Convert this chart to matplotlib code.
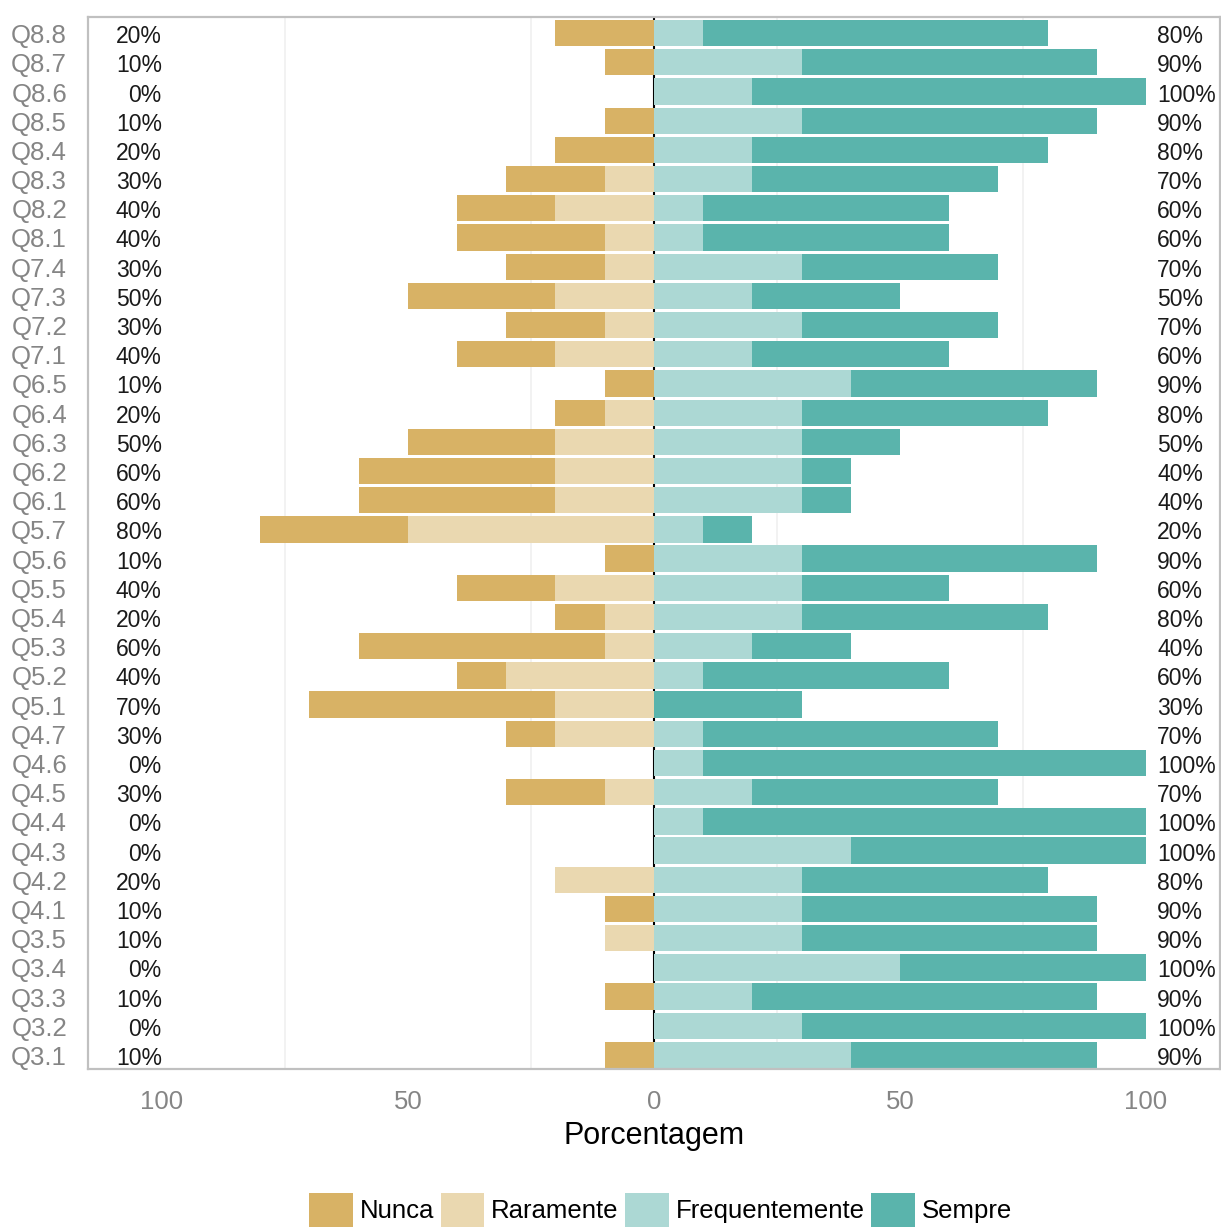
import matplotlib
matplotlib.use("Agg")
import matplotlib.pyplot as plt
import matplotlib.transforms as mtrans
import numpy as np
from matplotlib.patches import Patch

plt.rcParams['font.family'] = ['Liberation Sans', 'DejaVu Sans']

items = ["Q8.8", "Q8.7", "Q8.6", "Q8.5", "Q8.4", "Q8.3", "Q8.2", "Q8.1",
         "Q7.4", "Q7.3", "Q7.2", "Q7.1", "Q6.5", "Q6.4", "Q6.3", "Q6.2", "Q6.1",
         "Q5.7", "Q5.6", "Q5.5", "Q5.4", "Q5.3", "Q5.2", "Q5.1",
         "Q4.7", "Q4.6", "Q4.5", "Q4.4", "Q4.3", "Q4.2", "Q4.1",
         "Q3.5", "Q3.4", "Q3.3", "Q3.2", "Q3.1"]
nunca = [20, 10, 0, 10, 20, 20, 20, 30, 20, 30, 20, 20, 10, 10, 30, 40, 40,
         30, 10, 20, 10, 50, 10, 50, 10, 0, 20, 0, 0, 0, 10, 0, 0, 10, 0, 10]
raramente = [0, 0, 0, 0, 0, 10, 20, 10, 10, 20, 10, 20, 0, 10, 20, 20, 20,
             50, 0, 20, 10, 10, 30, 20, 20, 0, 10, 0, 0, 20, 0, 10, 0, 0, 0, 0]
frequentemente = [10, 30, 20, 30, 20, 20, 10, 10, 30, 20, 30, 20, 40, 30, 30, 30, 30,
                  10, 30, 30, 30, 20, 10, 0, 10, 10, 20, 10, 40, 30, 30, 30, 50, 20, 30, 40]
sempre = [70, 60, 80, 60, 60, 50, 50, 50, 40, 30, 40, 40, 50, 50, 20, 10, 10,
          10, 60, 30, 50, 20, 50, 30, 60, 90, 50, 90, 60, 50, 60, 60, 50, 70, 70, 50]
categories = ["Nunca", "Raramente", "Frequentemente", "Sempre"]
colors = ["#D8B265", "#EAD8B0", "#ACD8D4", "#5AB4AC"]
xticks = [-100, -50, 0, 50, 100]
xticklabels = ["100", "50", "0", "50", "100"]

n = len(items)
y = np.arange(n)[::-1]
nun = np.array(nunca); rar = np.array(raramente)
fre = np.array(frequentemente); sem = np.array(sempre)

fig = plt.figure(figsize=(12.21, 12.27), dpi=100)
ax = fig.add_axes([0.0721, 0.1288, 0.9269, 0.8573])

h = 0.9
ax.barh(y, -rar, left=0, height=h, color=colors[1], zorder=2)
ax.barh(y, -nun, left=-rar, height=h, color=colors[0], zorder=2)
ax.barh(y, fre, left=0, height=h, color=colors[2], zorder=2)
ax.barh(y, sem, left=fre, height=h, color=colors[3], zorder=2)

ax.axvline(0, color='black', lw=1.5, zorder=1)
for gx in [-75, -25, 25, 75]:
    ax.axvline(gx, color='#F0F0F0', lw=1.2, zorder=0)

# baseline offset: text baselines sit ~10px below row centre
down = mtrans.ScaledTranslation(0, -0.10, fig.dpi_scale_trans)
left_tot = nun + rar
right_tot = fre + sem
for yi, lt, rt in zip(y, left_tot, right_tot):
    ax.text(-100, yi, f"{lt}%", ha='right', va='baseline', fontsize=16.5,
            color='#1a1a1a', transform=ax.transData + down)
    ax.text(102.3, yi, f"{rt}%", ha='left', va='baseline', fontsize=16.5,
            color='#1a1a1a', transform=ax.transData + down)

# category labels (y axis)
ylab_trans = ax.get_yaxis_transform() + mtrans.ScaledTranslation(-0.21, -0.10, fig.dpi_scale_trans)
for yi, lab in zip(y, items):
    ax.text(0, yi, lab, ha='right', va='baseline', fontsize=18.5, color='#858585',
            transform=ylab_trans, clip_on=False)

ax.set_xlim(-115, 115)
ax.set_ylim(-0.48, n - 1 + 0.55)
ax.set_yticks(y)
ax.set_yticklabels([])
ax.set_xticks(xticks)
ax.set_xticklabels(xticklabels, fontsize=18.5, color='#858585')
ax.tick_params(axis='both', length=0)
ax.tick_params(axis='x', pad=15)
ax.set_xlabel("Porcentagem", fontsize=22, color='black', labelpad=5)

for s in ax.spines.values():
    s.set_color('#C0C0C0')
    s.set_linewidth(1.6)

handles = [Patch(facecolor=c, edgecolor='none') for c in colors]
fig.legend(handles, categories, loc='center', bbox_to_anchor=(0.541, 0.014),
           ncol=4, frameon=False, fontsize=18.5, handlelength=1.68, handleheight=1.68,
           handletextpad=0.27, columnspacing=0.27, borderpad=0, borderaxespad=0)

fig.savefig("out.png", dpi=100)
